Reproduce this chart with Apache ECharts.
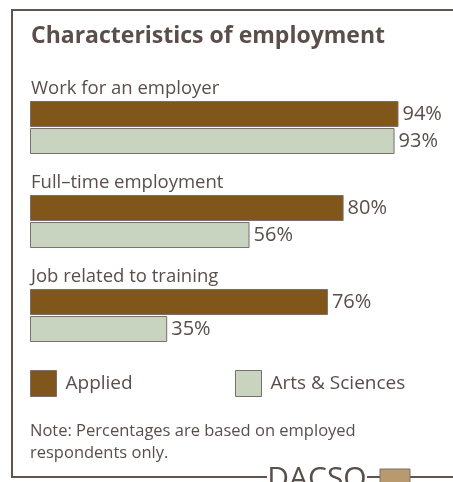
<!DOCTYPE html>
<html>
<head>
<meta charset="utf-8">
<script src="https://cdn.jsdelivr.net/npm/echarts@6/dist/echarts.min.js"></script>
<style>
html,body{margin:0;padding:0;background:#fff;}
#chart{width:453px;height:482px;}
</style>
</head>
<body>
<div id="chart"></div>
<script>
var categories = ['Work for an employer', 'Full\u2013time employment', 'Job related to training'];
var applied = [94, 80, 76];
var artsSciences = [93, 56, 35];
var seriesNames = ['Applied', 'Arts & Sciences'];
var titleText = 'Characteristics of employment';
var noteText = 'Note: Percentages are based on employed\nrespondents only.';

var textColor = '#5a4e4a';
var borderColor = '#7a6f6a';
var appliedColor = '#80561a';
var artsColor = '#c8d4bf';
var font = '"Open Sans", "Noto Sans", sans-serif';

function legendFor(name, color, left) {
  return {
    left: left, top: 370, padding: 0, itemWidth: 26, itemHeight: 26,
    icon: 'rect',
    textStyle: {fontSize: 19, color: textColor, fontFamily: font, padding: [0, 0, 0, 4]},
    data: [{name: name, itemStyle: {color: color, borderColor: borderColor, borderWidth: 1}}]
  };
}

var chart = echarts.init(document.getElementById('chart'), null, {renderer: 'canvas'});
chart.setOption({
  backgroundColor: '#ffffff',
  animation: false,
  textStyle: {fontFamily: font},
  grid: {left: 30, right: 31, top: 80.5, height: 282, containLabel: false},
  xAxis: {type: 'value', min: 0, max: 100, show: false},
  yAxis: {
    type: 'category', data: categories, inverse: true,
    axisLine: {show: false}, axisTick: {show: false}, splitLine: {show: false},
    axisLabel: {
      inside: true, margin: 1, align: 'left', verticalAlign: 'bottom',
      padding: [0, 0, 29, 0], color: textColor, fontSize: 18.5, fontFamily: font
    },
    z: 10
  },
  legend: [
    legendFor(seriesNames[0], appliedColor, 30),
    legendFor(seriesNames[1], artsColor, 235)
  ],
  series: [
    {
      name: seriesNames[0], type: 'bar', data: applied, barWidth: 26, barGap: '4%',
      itemStyle: {color: appliedColor, borderColor: borderColor, borderWidth: 1},
      label: {show: true, position: 'right', distance: 4, formatter: '{c}%', fontSize: 20, color: textColor, fontFamily: font}
    },
    {
      name: seriesNames[1], type: 'bar', data: artsSciences, barWidth: 26,
      itemStyle: {color: artsColor, borderColor: borderColor, borderWidth: 1},
      label: {show: true, position: 'right', distance: 4, formatter: '{c}%', fontSize: 20, color: textColor, fontFamily: font}
    }
  ],
  graphic: [
    {type: 'rect', shape: {x: 12, y: 10, width: 480, height: 467}, style: {fill: 'none', stroke: '#5f5450', lineWidth: 2}, silent: true, z: 1},
    {type: 'text', left: 31, top: 25, style: {text: titleText, fontSize: 23, fontWeight: 'bold', fill: textColor, fontFamily: font}},
    {type: 'text', left: 30, top: 420, style: {text: noteText, fontSize: 16.5, lineHeight: 22, fill: textColor, fontFamily: font}},
    {type: 'rect', shape: {x: 267, y: 465, width: 100, height: 20}, style: {fill: '#ffffff'}, z: 5},
    {type: 'text', x: 317, y: 464, style: {text: 'DACSO', fontSize: 30, fill: textColor, fontFamily: font, align: 'center', verticalAlign: 'top'}, z: 6},
    {type: 'line', shape: {x1: 367, y1: 477, x2: 380, y2: 477}, style: {stroke: '#5f5450', lineWidth: 2}, z: 6},
    {type: 'rect', shape: {x: 380, y: 469, width: 30, height: 20}, style: {fill: '#b89a6e', stroke: borderColor, lineWidth: 1}, z: 7}
  ]
});
</script>
</body>
</html>
